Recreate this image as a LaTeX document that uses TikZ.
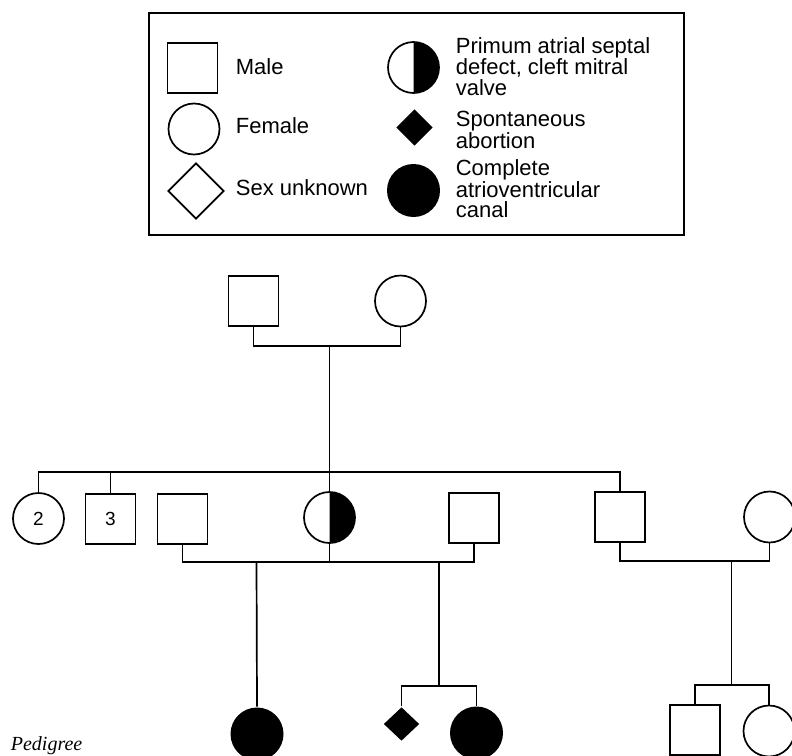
\documentclass[tikz,border=0pt]{standalone}
\usepackage{fontspec}
\setmainfont{Liberation Sans}
\newfontfamily\capfont{Liberation Serif}
\usetikzlibrary{shapes.geometric}
\begin{document}
\begin{tikzpicture}[x=1pt,y=-1pt,line width=1.7pt,
  male/.style={draw,rectangle,minimum size=50pt,inner sep=0pt},
  female/.style={draw,circle,minimum size=51pt,inner sep=0pt},
  affected/.style={fill=black,circle,minimum size=53pt,inner sep=0pt},
  abort/.style={fill=black,diamond,minimum width=36pt,minimum height=34pt,inner sep=0pt},
  unknown/.style={draw,diamond,minimum width=56pt,minimum height=56pt,inner sep=0pt},
  lab/.style={inner sep=0pt,anchor=base west,font=\fontsize{22}{21}\selectfont},
  num/.style={font=\fontsize{19}{19}\selectfont}]
\useasboundingbox (0,0) rectangle (792,755);
\clip (0,0) rectangle (792,755);
\fill[white] (0,0) rectangle (792,755);

% ---------- legend ----------
\node[draw,line width=1.8pt,rectangle,inner sep=0pt,minimum width=535pt,minimum height=222pt] (legend) at (416.5,124) {};
\node[male] (lmale) at (192.5,68) {};
\node[female] (lfemale) at (194,129) {};
\node[unknown] (lunknown) at (196,191) {};
\coordinate (lhc) at (413.5,67.5);
\begin{scope}
  \clip (413.5,30) rectangle (450,100);
  \fill (lhc) circle[radius=25.5pt];
\end{scope}
\node[female] (lhalf) at (lhc) {};
\node[abort,minimum width=37pt,minimum height=37pt] (labort) at (414.5,127.5) {};
\node[affected] (laff) at (413.5,190.5) {};

\node[lab] (tmale) at (235,74) {Male};
\node[lab] (tfemale) at (235,133) {Female};
\node[lab] (tunknown) at (235,195) {Sex unknown};
\node[lab] (tpa) at (455,53) {Primum atrial septal};
\node[lab] (tpb) at (455,74.5) {defect, cleft mitral};
\node[lab] (tpc) at (455,95) {valve};
\node[lab] (tsa) at (455,126.5) {Spontaneous};
\node[lab] (tsb) at (455,148) {abortion};
\node[lab] (tca) at (455,175) {Complete};
\node[lab] (tcb) at (455,197) {atrioventricular};
\node[lab] (tcc) at (455,217.5) {canal};

% ---------- generation I ----------
\node[male] (I1) at (253.5,301) {};
\node[female] (I2) at (400.5,301) {};
\coordinate (m1) at (329.5,346);
\draw (I1.south) |- (m1) -| (I2.south);

% ---------- generation II ----------
\node[female,num] (II1) at (38.5,518.5) {2};
\node[male,num] (II2) at (110.5,519) {3};
\node[male] (II3) at (182.5,519) {};
\coordinate (pc) at (329.5,517.5);
\begin{scope}
  \clip (329.5,480) rectangle (370,560);
  \fill (pc) circle[radius=25.5pt];
\end{scope}
\node[female] (p) at (pc) {};
\node[male] (II5) at (474,518) {};
\node[male] (II6) at (620,517) {};
\node[female] (II7) at (769.5,517) {};

\coordinate (s1) at (329.5,472);
\draw (m1) -- (s1);
\draw (II1.north) |- (II6.north |- s1) -- (II6.north);
\draw (II2.north) -- (II2.north |- s1);
\draw (s1) -- (p.north);

% ---------- generation III ----------
\node[affected] (III1) at (257,734) {};
\node[abort] (III2) at (401.5,724) {};
\node[affected] (III3) at (476.5,733) {};
\node[male] (III4) at (695,730) {};
\node[female] (III5) at (769,731) {};

\coordinate (mA) at (256.5,562);
\draw (II3.south) |- (mA) -- (p.south |- mA) -| (II5.south);
\draw (p.south) -- (p.south |- mA);
\draw (mA) -- (III1.north);

\coordinate (mB) at (439,562);
\coordinate (sB) at (439,686);
\draw (mB) -- (sB);
\draw (III2.north) |- (sB) -| (III3.north);

\coordinate (mC) at (731.5,561);
\draw (II6.south) |- (mC) -| (II7.south);
\coordinate (sC) at (731.5,685);
\draw (mC) -- (sC);
\draw (III4.north) |- (sC) -| (III5.north);

\node[inner sep=0pt,anchor=base west,font=\capfont\itshape\fontsize{20}{20}\selectfont] (cap) at (10,750) {Pedigree};
\end{tikzpicture}
\end{document}
